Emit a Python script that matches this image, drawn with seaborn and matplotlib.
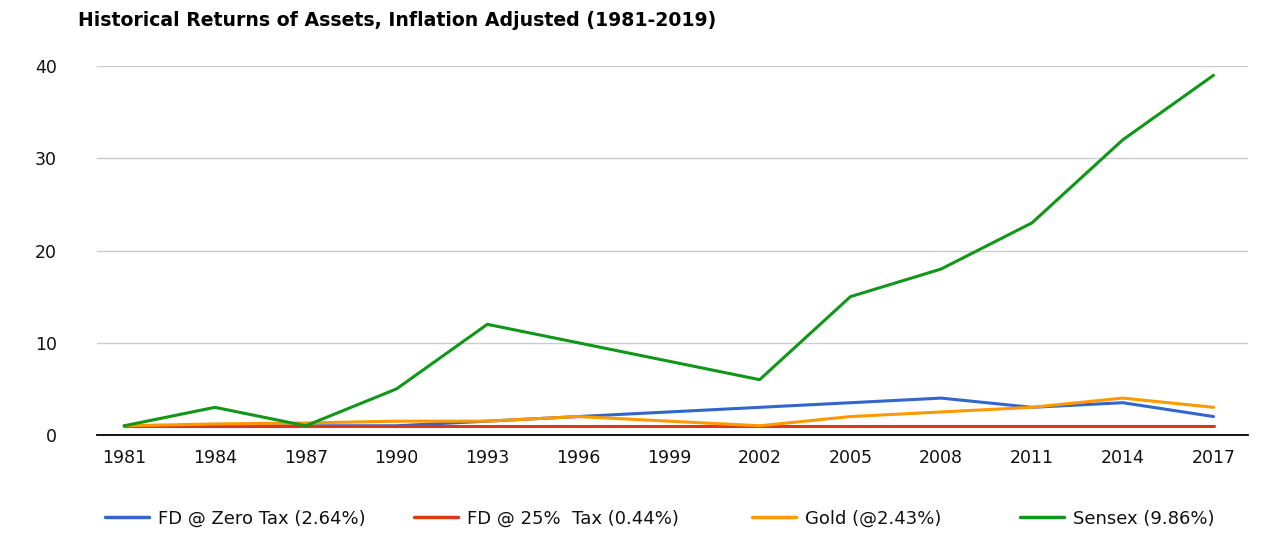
import pandas as pd
import matplotlib
matplotlib.use("Agg")
import matplotlib.pyplot as plt
import seaborn as sns

years = ["1981", "1984", "1987", "1990", "1993", "1996", "1999",
         "2002", "2005", "2008", "2011", "2014", "2017"]
fd_zero_tax = [1, 1, 1, 1, 1.5, 2, 2.5, 3, 3.5, 4, 3, 3.5, 2]
fd_25_tax = [1, 1, 1, 1, 1, 1, 1, 1, 1, 1, 1, 1, 1]
gold = [1, 1.2, 1.3, 1.5, 1.5, 2, 1.5, 1, 2, 2.5, 3, 4, 3]
sensex = [1, 3, 1, 5, 12, 10, 8, 6, 15, 18, 23, 32, 39]

series_names = ["FD @ Zero Tax (2.64%)", "FD @ 25%  Tax (0.44%)",
                "Gold (@2.43%)", "Sensex (9.86%)"]
colors = ["#3366cc", "#dc3912", "#ff9900", "#109618"]

data = pd.DataFrame({"Year": years * 4,
                     "Value": fd_zero_tax + fd_25_tax + gold + sensex,
                     "Series": [s for s in series_names for _ in years]})

sns.set_style("white")
plt.rcParams["font.family"] = ["DejaVu Sans"]

fig = plt.figure(figsize=(12.66, 5.46), dpi=100)
ax = fig.add_axes([0.0766, 0.2033, 0.9092, 0.6757])

sns.lineplot(data=data, x="Year", y="Value", hue="Series",
             palette=dict(zip(series_names, colors)), linewidth=2.2,
             legend=False, ax=ax)

ax.set_ylim(0, 40)
ax.set_xlim(-0.3, 12.38)
ax.set_yticks([0, 10, 20, 30, 40])
ax.yaxis.grid(True, color="#cccccc", linewidth=1)
ax.xaxis.grid(False)
ax.set_xlabel("")
ax.set_ylabel("")
for s in ["top", "left", "right"]:
    ax.spines[s].set_visible(False)
ax.spines["bottom"].set_color("black")
ax.spines["bottom"].set_linewidth(1.3)
ax.tick_params(axis="both", length=0, labelsize=12.5, colors="#111111")
ax.tick_params(axis="y", pad=29)
ax.tick_params(axis="x", pad=10)

fig.text(0.0616, 0.962, "Historical Returns of Assets, Inflation Adjusted (1981-2019)",
         fontsize=13.6, fontweight="bold", va="center", ha="left", color="black")

# legend, one entry per block like the original layout
legend_x = [89, 398, 736, 1004]
for name, col, x in zip(series_names, colors, legend_x):
    h = plt.Line2D([], [], color=col, linewidth=2.5)
    fig.legend([h], [name], loc="center left", bbox_to_anchor=(x / 1266, 0.05),
               frameon=False, fontsize=13, handlelength=2.4, handletextpad=0.5,
               labelcolor="#111111")

fig.savefig("out.png", dpi=100)
